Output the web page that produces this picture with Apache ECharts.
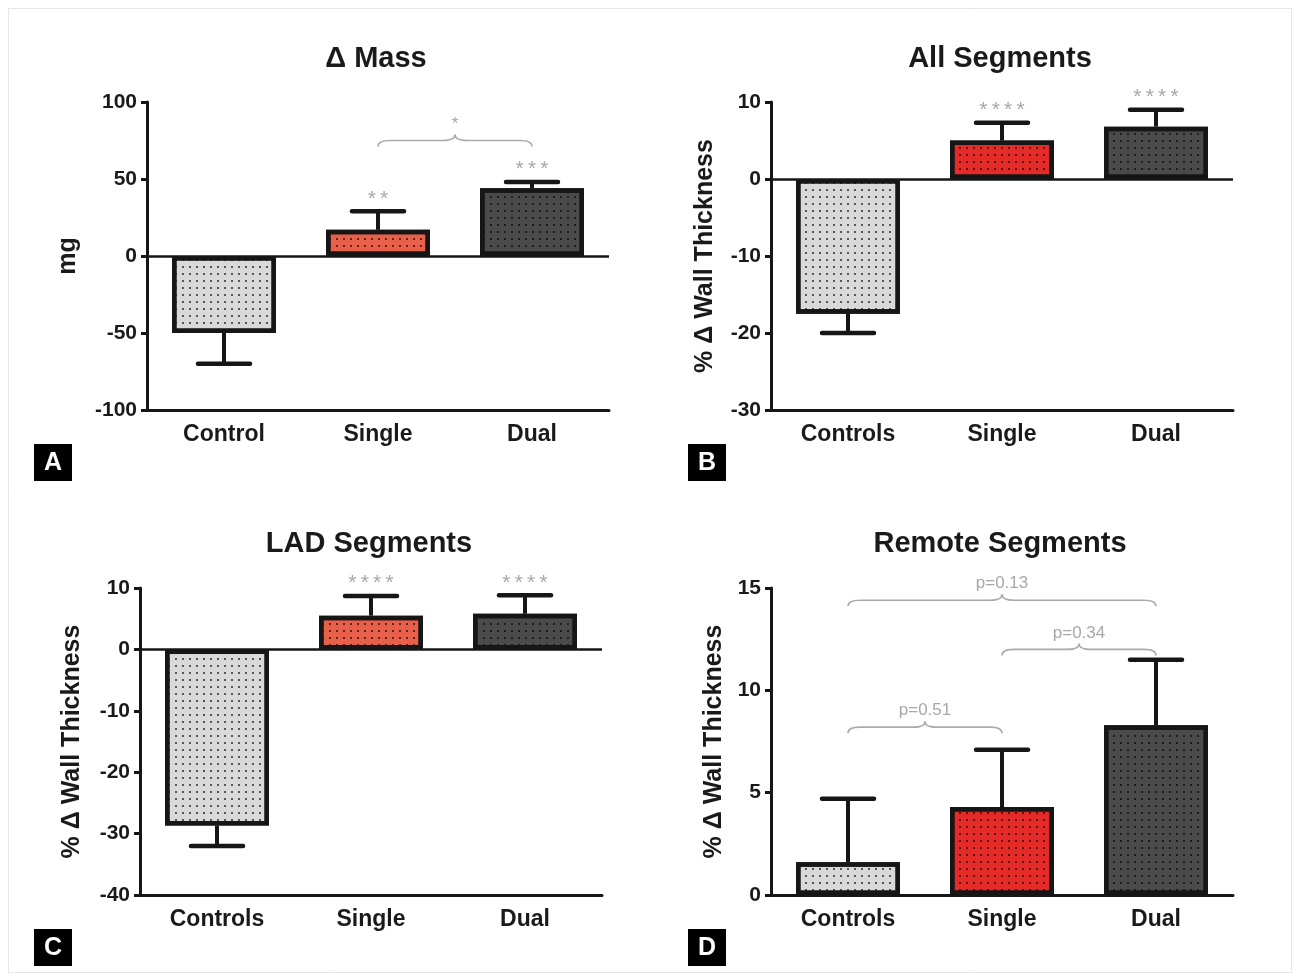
<!DOCTYPE html>
<html>
<head>
<meta charset="utf-8">
<script src="https://cdn.jsdelivr.net/npm/echarts@6/dist/echarts.min.js"></script>
<style>html,body{margin:0;padding:0;background:#fff;}#c{width:1298px;height:979px;}</style>
</head>
<body>
<div id="c"></div>
<script>
// ---- data ----
const catsA = ['Control', 'Single', 'Dual'];
const catsB = ['Controls', 'Single', 'Dual'];
const massMean = [-50, 17, 44];
const massErr = [-70, 29, 48];
const massStars = ['', '**', '***'];
const massBraces = [[1, 2, 75]];
const massBraceLabels = ['*'];
const allMean = [-17.5, 5, 6.8];
const allErr = [-20, 7.3, 9];
const allStars = ['', '****', '****'];
const ladMean = [-28.7, 5.5, 5.8];
const ladErr = [-32, 8.7, 8.8];
const ladStars = ['', '****', '****'];
const remMean = [1.6, 4.3, 8.3];
const remErr = [4.7, 7.1, 11.5];
const remStars = ['', '', ''];
const remBraces = [[0, 1, 8.2], [1, 2, 12.0], [0, 2, 14.4]];
const remBraceLabels = ['p=0.51', 'p=0.34', 'p=0.13'];
const titles = ['\u0394 Mass', 'All Segments', 'LAD Segments', 'Remote Segments'];
const yNames = ['mg', '% \u0394 Wall Thickness', '% \u0394 Wall Thickness', '% \u0394 Wall Thickness'];
const panelLetters = ['A', 'B', 'C', 'D'];

const FONT = '"Liberation Sans", Arial, sans-serif';
const grids = [
  {left: 147, top: 102, width: 462, height: 308},
  {left: 771, top: 102, width: 462, height: 308},
  {left: 140, top: 588, width: 462, height: 307},
  {left: 771, top: 588, width: 462, height: 307}
];
const yRanges = [[-100, 100, 50], [-30, 10, 10], [-40, 10, 10], [0, 15, 5]];
const nameGaps = [66, 53, 55, 44];
const singleColors = ['#E8604A', '#E42B27', '#E8604A', '#E42B27'];
const ctrlColor = '#D9D9D9';
const dualColor = '#4B4B4B';

const decal = {symbol: 'rect', symbolSize: 1, dashArrayX: [1.5, 4.6], dashArrayY: [1.5, 4.6], color: 'rgba(0,0,0,0.6)', rotation: 0};

function errRender(stars) {
  return function (params, api) {
    const i = api.value(0), m = api.value(1), e = api.value(2);
    const p0 = api.coord([i, m]), p1 = api.coord([i, e]);
    const half = 26;
    const ch = [
      {type: 'line', shape: {x1: p0[0], y1: p0[1], x2: p1[0], y2: p1[1]}, style: {stroke: '#161616', lineWidth: 4}},
      {type: 'line', shape: {x1: p1[0] - half, y1: p1[1], x2: p1[0] + half, y2: p1[1]}, style: {stroke: '#161616', lineWidth: 4.5, lineCap: 'round'}}
    ];
    if (stars[i]) {
      ch.push({type: 'text', x: p1[0], y: p1[1] - 2, style: {text: stars[i].split('').join('\u2009'), fill: '#A8A8A8', font: '21px ' + FONT, align: 'center', verticalAlign: 'bottom', textAlign: 'center', textVerticalAlign: 'bottom'}});
    }
    return {type: 'group', children: ch};
  };
}

function braceRender(labels) {
  return function (params, api) {
    const a = api.value(0), b = api.value(1), y = api.value(2);
    const p1 = api.coord([a, y]), p2 = api.coord([b, y]);
    const x1 = p1[0], x2 = p2[0], yy = p1[1], xm = (x1 + x2) / 2;
    const d = 6, r = 12;
    const path = 'M' + x1 + ',' + (yy + d) + ' Q' + x1 + ',' + yy + ' ' + (x1 + r) + ',' + yy +
      ' L' + (xm - r) + ',' + yy + ' Q' + xm + ',' + yy + ' ' + xm + ',' + (yy - d) +
      ' Q' + xm + ',' + yy + ' ' + (xm + r) + ',' + yy + ' L' + (x2 - r) + ',' + yy +
      ' Q' + x2 + ',' + yy + ' ' + x2 + ',' + (yy + d);
    return {type: 'group', children: [
      {type: 'path', shape: {pathData: path}, style: {stroke: '#AAAAAA', fill: null, lineWidth: 1.6}},
      {type: 'text', x: xm, y: yy - d - 2, style: {text: labels[params.dataIndex], fill: '#A8A8A8', font: '17px ' + FONT, align: 'center', verticalAlign: 'bottom', textAlign: 'center', textVerticalAlign: 'bottom'}}
    ]};
  };
}

const panels = [
  {cats: catsA, mean: massMean, err: massErr, stars: massStars, braces: massBraces, braceLabels: massBraceLabels},
  {cats: catsB, mean: allMean, err: allErr, stars: allStars, braces: [], braceLabels: []},
  {cats: catsB, mean: ladMean, err: ladErr, stars: ladStars, braces: [], braceLabels: []},
  {cats: catsB, mean: remMean, err: remErr, stars: remStars, braces: remBraces, braceLabels: remBraceLabels}
];

const option = {
  animation: false,
  backgroundColor: '#fff',
  title: grids.map((g, k) => ({
    text: titles[k], left: g.left + g.width / 2 - 7, top: k < 2 ? 39 : 524, textAlign: 'center',
    textStyle: {fontFamily: FONT, fontWeight: 'bold', fontSize: 29, color: '#1a1a1a'}
  })),
  grid: grids,
  xAxis: grids.map((g, k) => ({
    type: 'category', gridIndex: k, data: panels[k].cats,
    axisLine: {onZero: false, lineStyle: {color: '#161616', width: 3}},
    axisTick: {alignWithLabel: true, length: 6, lineStyle: {color: '#161616', width: 3}},
    axisLabel: {margin: 13, fontFamily: FONT, fontWeight: 'bold', fontSize: 23, color: '#1a1a1a'},
    splitLine: {show: false}
  })),
  yAxis: grids.map((g, k) => ({
    type: 'value', gridIndex: k, min: yRanges[k][0], max: yRanges[k][1], interval: yRanges[k][2],
    name: yNames[k], nameLocation: 'middle', nameGap: nameGaps[k], nameRotate: 90,
    nameTextStyle: {fontFamily: FONT, fontWeight: 'bold', fontSize: 25, color: '#1a1a1a'},
    axisLine: {show: true, lineStyle: {color: '#161616', width: 3}},
    axisTick: {show: true, length: 6, lineStyle: {color: '#161616', width: 3}},
    axisLabel: {margin: 10, fontFamily: FONT, fontWeight: 'bold', fontSize: 21, color: '#1a1a1a'},
    splitLine: {show: false}
  })),
  series: []
};

panels.forEach((p, k) => {
  const colors = [ctrlColor, singleColors[k], dualColor];
  option.series.push({
    type: 'bar', xAxisIndex: k, yAxisIndex: k, barWidth: 104, z: 2,
    data: p.mean.map((v, i) => ({value: v, itemStyle: {color: colors[i], borderColor: '#161616', borderWidth: 4.5, decal: decal}})),
    markLine: yRanges[k][0] < 0 ? {
      symbol: 'none', silent: true, label: {show: false},
      lineStyle: {color: '#161616', width: 2.5, type: 'solid'},
      data: [{yAxis: 0}]
    } : undefined
  });
  option.series.push({
    type: 'custom', xAxisIndex: k, yAxisIndex: k, z: 3, clip: false,
    renderItem: errRender(p.stars),
    data: p.mean.map((v, i) => [i, v, p.err[i]])
  });
  if (p.braces.length) {
    option.series.push({
      type: 'custom', xAxisIndex: k, yAxisIndex: k, z: 3, clip: false,
      renderItem: braceRender(p.braceLabels),
      data: p.braces
    });
  }
});

const letterPos = [[34, 444], [688, 444], [34, 929], [688, 929]];
option.graphic = [
  {type: 'rect', shape: {x: 8.5, y: 8.5, width: 1283, height: 964}, style: {fill: null, stroke: '#E6E6E6', lineWidth: 1}, silent: true}
].concat(letterPos.map((pos, k) => ({
  type: 'group', left: pos[0], top: pos[1], children: [
    {type: 'rect', shape: {x: 0, y: 0, width: 38, height: 37}, style: {fill: '#000'}},
    {type: 'text', x: 19, y: 19, style: {text: panelLetters[k], fill: '#fff', font: 'bold 25px ' + FONT, align: 'center', verticalAlign: 'middle', textAlign: 'center', textVerticalAlign: 'middle'}}
  ]
})));

const chart = echarts.init(document.getElementById('c'), null, {renderer: 'canvas'});
chart.setOption(option);
</script>
</body>
</html>
